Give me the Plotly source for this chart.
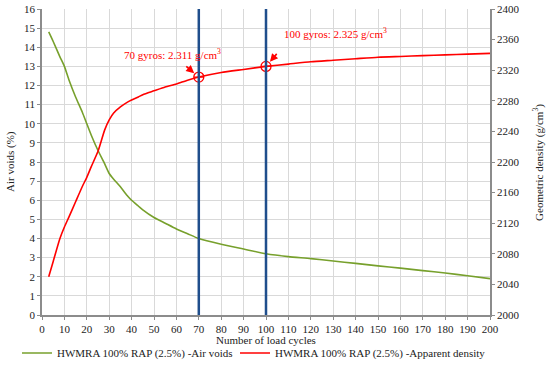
import plotly.graph_objects as go

cycles = [3, 5, 8, 10, 12, 15, 18, 20, 22, 25, 28, 30, 32, 35, 38, 40, 43, 45, 50, 55, 60, 65, 70,
          80, 90, 100, 110, 120, 130, 140, 150, 160, 170, 180, 190, 200]
air_voids = [14.8, 14.3, 13.5, 13.0, 12.3, 11.4, 10.6, 10.0, 9.4, 8.6, 7.9, 7.4, 7.1, 6.7, 6.25, 6.0,
             5.7, 5.5, 5.1, 4.8, 4.5, 4.25, 4.0, 3.7, 3.45, 3.2, 3.05, 2.95, 2.82, 2.7, 2.57, 2.45,
             2.32, 2.2, 2.05, 1.9]
density = [2050, 2070, 2100, 2115, 2128, 2148, 2168, 2180, 2194, 2214, 2242, 2255, 2264, 2272, 2278,
           2281, 2285, 2288, 2293, 2298, 2302, 2307, 2311, 2317, 2321, 2325, 2328, 2331, 2333, 2335,
           2337, 2338, 2339, 2340, 2341, 2342]
marker_cycles = [70, 100]
marker_density = [2311, 2325]
marker_labels = ["70 gyros: 2.311 g/cm<sup>3</sup>", "100 gyros: 2.325 g/cm<sup>3</sup>"]
x_title = "Number of load cycles"
y_title = "Air voids (%)"
y2_title = "Geometric density (g/cm<sup>3</sup>)"

FONT = "Liberation Serif"
GREEN = "#77a02c"
RED = "#ff0000"
BLUE = "#1f4e8c"
TXT = "#222"

fig = go.Figure()
fig.add_trace(go.Scatter(x=cycles, y=air_voids, mode="lines",
                         line=dict(color=GREEN, width=1.6, shape="spline", smoothing=0.6),
                         name="HWMRA 100% RAP (2.5%) -Air voids", yaxis="y", legend="legend"))
fig.add_trace(go.Scatter(x=cycles, y=density, mode="lines",
                         line=dict(color=RED, width=1.6, shape="spline", smoothing=0.6),
                         name="HWMRA 100% RAP (2.5%) -Apparent density", yaxis="y2", legend="legend2"))
fig.add_trace(go.Scatter(x=marker_cycles, y=marker_density, mode="markers", yaxis="y2", showlegend=False,
                         marker=dict(symbol="circle-cross-open", size=10, color=RED,
                                     line=dict(width=1.3, color=RED))))

for xv in marker_cycles:
    fig.add_shape(type="line", x0=xv, x1=xv, y0=0, y1=1, xref="x", yref="paper",
                  line=dict(color=BLUE, width=2.5))

offsets = [(-14, -12), (12, -14)]
for xv, yv, (ax, ay) in zip(marker_cycles, marker_density, offsets):
    fig.add_annotation(x=xv, y=yv, xref="x", yref="y2", text="", showarrow=True,
                       arrowhead=2, arrowsize=1, arrowwidth=1.6, arrowcolor=RED,
                       ax=ax, ay=ay, standoff=6)
fig.add_annotation(x=70, y=2311, xref="x", yref="y2", text=marker_labels[0], showarrow=False,
                   xanchor="right", yanchor="bottom", xshift=24, yshift=14,
                   font=dict(family=FONT, size=11, color=RED))
fig.add_annotation(x=100, y=2325, xref="x", yref="y2", text=marker_labels[1], showarrow=False,
                   xanchor="left", yanchor="bottom", xshift=16, yshift=24,
                   font=dict(family=FONT, size=11, color=RED))

# axis titles
fig.add_annotation(x=0.5, y=-0.083, xref="paper", yref="paper", text=x_title, showarrow=False,
                   xanchor="center", yanchor="middle", font=dict(family=FONT, size=11, color=TXT))
fig.add_annotation(x=-0.0714, y=0.5, xref="paper", yref="paper", text=y_title, showarrow=False,
                   textangle=-90, xanchor="center", yanchor="middle", font=dict(family=FONT, size=11, color=TXT))
fig.add_annotation(x=1.107, y=0.5, xref="paper", yref="paper", text=y2_title, showarrow=False,
                   textangle=-90, xanchor="center", yanchor="middle", font=dict(family=FONT, size=11, color=TXT))

axis_common = dict(showline=True, linecolor="#8c8c8c", linewidth=1.5, ticks="outside", ticklen=3,
                   tickcolor="#8c8c8c", gridcolor="#d9d9d9", gridwidth=1, automargin=False,
                   tickfont=dict(family=FONT, size=11, color=TXT), zeroline=False)

fig.update_layout(
    width=550, height=369,
    margin=dict(l=42, r=60, t=9, b=54),
    paper_bgcolor="white", plot_bgcolor="white",
    font=dict(family=FONT, size=11, color=TXT),
    xaxis=dict(range=[0, 200], dtick=10, tick0=0, **axis_common),
    yaxis=dict(range=[0, 16], dtick=1, **axis_common),
    yaxis2=dict(range=[2000, 2400], dtick=40, overlaying="y", side="right", showgrid=False,
                **{k: v for k, v in axis_common.items() if k != "gridcolor"}),
    legend=dict(orientation="h", x=17 / 550, xanchor="left", xref="container",
                y=16 / 369, yanchor="middle", yref="container",
                font=dict(family=FONT, size=11), bgcolor="rgba(0,0,0,0)"),
    legend2=dict(orientation="h", x=235 / 550, xanchor="left", xref="container",
                 y=16 / 369, yanchor="middle", yref="container",
                 font=dict(family=FONT, size=11), bgcolor="rgba(0,0,0,0)"),
    showlegend=True,
)

fig.write_html("out.html", config={"displayModeBar": False},
               post_script="document.body.style.margin='0';")
